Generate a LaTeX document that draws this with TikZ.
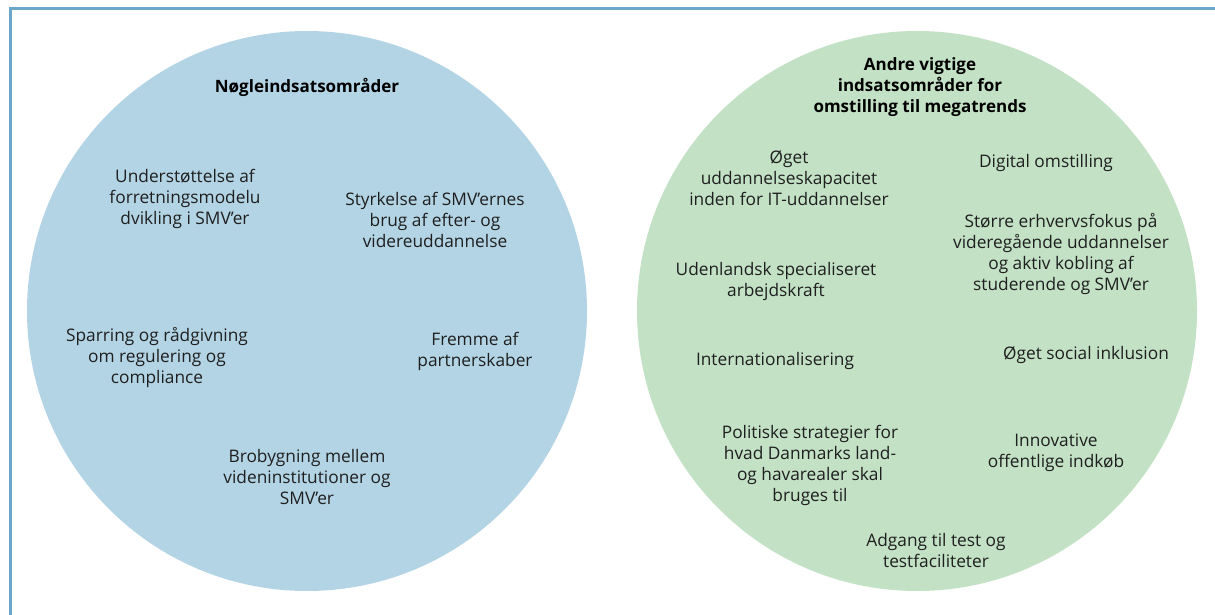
\documentclass[tikz,border=0pt]{standalone}
\usepackage{fontspec}
\setmainfont{Open Sans}
\usepackage{xcolor}
\definecolor{keyblue}{HTML}{B3D4E4}
\definecolor{othergreen}{HTML}{C3E1C5}
\definecolor{framelin}{HTML}{6AA7C9}

\begin{document}
\begin{tikzpicture}[
  x=1pt, y=-1pt,
  zone/.style={
    circle, fill=#1, draw=none, inner sep=0pt, minimum size=560pt
  },
  head/.style={
    font=\fontsize{17}{21}\selectfont\bfseries, align=center, text=black
  },
  item/.style={
    font=\fontsize{17.3}{21}\selectfont, align=center, text=black!88
  }
]
\useasboundingbox (0,0) rectangle (1215,615);

% frame
\draw[framelin, line width=3pt] (10,615) -- (10,9) -- (1215,9);

% circles
\node[zone=keyblue] (keyc) at (307,311) {};
\node[zone=othergreen] (othc) at (917,311) {};

% Key areas
\node[head] (keyhead) at (307,87) {Nøgleindsatsområder};
\node[item] (forret) at (185,199) {Understøttelse af\\forretningsmodelu\\dvikling i SMV’er};
\node[item] (styrk) at (435,220) {Styrkelse af SMV’ernes\\brug af efter- og\\videreuddannelse};
\node[item] (sparr) at (157,358) {Sparring og rådgivning\\om regulering og\\compliance};
\node[item] (fremme) at (475,351) {Fremme af\\partnerskaber};
\node[item] (brobyg) at (307,477) {Brobygning mellem\\videninstitutioner og\\SMV’er};

% Other important areas
\node[head] (othhead) at (920,87) {Andre vigtige\\indsatsområder for\\omstilling til megatrends};
\node[item] (udkap) at (789,178) {Øget\\uddannelseskapacitet\\inden for IT-uddannelser};
\node[item] (digit) at (1046,163) {Digital omstilling};
\node[item] (erhverv) at (1061,254) {Større erhvervsfokus på\\videregående uddannelser\\og aktiv kobling af\\studerende og SMV’er};
\node[item] (udenl) at (776,282) {Udenlandsk specialiseret\\arbejdskraft};
\node[item] (intern) at (775,361) {Internationalisering};
\node[item] (social) at (1086,355) {Øget social inklusion};
\node[item] (polit) at (810,465) {Politiske strategier for\\hvad Danmarks land-\\og havarealer skal\\bruges til};
\node[item] (innov) at (1056,453) {Innovative\\offentlige indkøb};
\node[item] (adgang) at (936,551) {Adgang til test og\\testfaciliteter};

\end{tikzpicture}
\end{document}
